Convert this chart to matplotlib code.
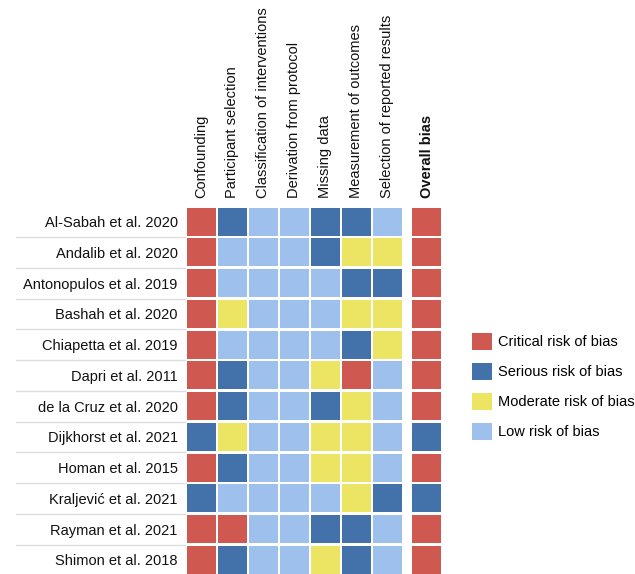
import matplotlib
matplotlib.use("Agg")
import matplotlib.pyplot as plt
from matplotlib.patches import Rectangle, Patch
import matplotlib.transforms as mtransforms

plt.rcParams['font.family'] = ['Liberation Sans', 'DejaVu Sans']

studies = [
    "Al-Sabah et al. 2020",
    "Andalib et al. 2020",
    "Antonopulos et al. 2019",
    "Bashah et al. 2020",
    "Chiapetta et al. 2019",
    "Dapri et al. 2011",
    "de la Cruz et al. 2020",
    "Dijkhorst et al. 2021",
    "Homan et al. 2015",
    "Kraljević et al. 2021",
    "Rayman et al. 2021",
    "Shimon et al. 2018",
]

domains = [
    "Confounding",
    "Participant selection",
    "Classification of interventions",
    "Derivation from protocol",
    "Missing data",
    "Measurement of outcomes",
    "Selection of reported results",
]
overall_label = "Overall bias"

# Judgements per study: C = critical, S = serious, M = moderate, L = low
domain_ratings = [
    ["C", "S", "L", "L", "S", "S", "L"],
    ["C", "L", "L", "L", "S", "M", "M"],
    ["C", "L", "L", "L", "L", "S", "S"],
    ["C", "M", "L", "L", "L", "M", "M"],
    ["C", "L", "L", "L", "L", "S", "M"],
    ["C", "S", "L", "L", "M", "C", "L"],
    ["C", "S", "L", "L", "S", "M", "L"],
    ["S", "M", "L", "L", "M", "M", "L"],
    ["C", "S", "L", "L", "M", "M", "L"],
    ["S", "L", "L", "L", "L", "M", "S"],
    ["C", "C", "L", "L", "S", "S", "L"],
    ["C", "S", "L", "L", "M", "S", "L"],
]
overall_ratings = ["C", "C", "C", "C", "C", "C", "C", "S", "C", "S", "C", "C"]

levels = ["C", "S", "M", "L"]
level_names = ["Critical risk of bias", "Serious risk of bias",
               "Moderate risk of bias", "Low risk of bias"]
level_colors = {"C": "#CF5850", "S": "#4371A9", "M": "#ECE563", "L": "#9DC1EC"}

W, H, DPI = 635, 574, 100
fig = plt.figure(figsize=(W / DPI, H / DPI), dpi=DPI)

n_dom = len(domains)
overall_x = n_dom + 0.26
x_left, x_right = -0.5, overall_x + 0.5
y_top, y_bot = -0.5, len(studies) - 0.5

# grid axes placed in pixel terms
ax_l, ax_r = 186, 442
ax_t, ax_b = 206.3, 575.3
ax = fig.add_axes([ax_l / W, 1 - ax_b / H, (ax_r - ax_l) / W, (ax_b - ax_t) / H])
ax.set_xlim(x_left, x_right)
ax.set_ylim(y_bot, y_top)

cw, ch = 0.935, 0.91
for r, row in enumerate(domain_ratings):
    for c, val in enumerate(row):
        ax.add_patch(Rectangle((c - cw / 2, r - ch / 2), cw, ch,
                               facecolor=level_colors[val], edgecolor="none"))
    ax.add_patch(Rectangle((overall_x - cw / 2, r - ch / 2), cw, ch,
                           facecolor=level_colors[overall_ratings[r]], edgecolor="none"))

for s in ax.spines.values():
    s.set_visible(False)

# study labels
ax.set_yticks(range(len(studies)))
ax.set_yticklabels(studies, fontsize=10.5, color="#111111")
ax.tick_params(axis="y", length=0, pad=6)

# domain headers
ax.set_xticks(list(range(n_dom)) + [overall_x])
ax.set_xticklabels(domains + [overall_label], rotation=90, fontsize=10.5, color="#111111")
ax.xaxis.tick_top()
ax.tick_params(axis="x", length=0, pad=6, top=False, labeltop=True, labelbottom=False)
ax.get_xticklabels()[-1].set_fontweight("bold")

# separators between study labels
trans = mtransforms.blended_transform_factory(fig.transFigure, ax.transData)
for r in range(len(studies) - 1):
    ax.plot([16 / W, 185 / W], [r + 0.5, r + 0.5], transform=trans,
            color="#dddddd", lw=1.0, clip_on=False)

# legend
handles = [Patch(facecolor=level_colors[k], edgecolor="none") for k in levels]
fs = 10.5 * DPI / 72
fig.legend(handles, level_names, loc="upper left",
           bbox_to_anchor=(472 / W, 1 - 333 / H), frameon=False, fontsize=10.5,
           handlelength=20 / fs, handleheight=20 / fs, handletextpad=6 / fs,
           labelspacing=13.5 / fs, borderpad=0, borderaxespad=0)

fig.savefig("out.png", dpi=DPI)
